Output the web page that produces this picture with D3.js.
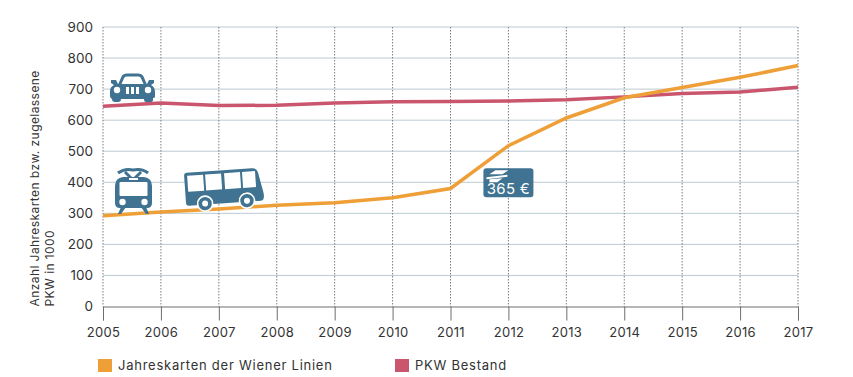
<!DOCTYPE html>
<html>
<head>
<meta charset="utf-8">
<script src="https://cdn.jsdelivr.net/npm/d3@7"></script>
<style>
  html, body { margin: 0; padding: 0; background: #fff; }
  svg { display: block; }
  text { font-family: Inter, "Open Sans", sans-serif; fill: #333; }
</style>
</head>
<body>
<div id="chart"></div>
<script>
const years = [2005, 2006, 2007, 2008, 2009, 2010, 2011, 2012, 2013, 2014, 2015, 2016, 2017];
const jahreskarten = [292, 304, 314, 326, 334, 350, 380, 518, 607, 672, 705, 738, 776];
const pkwBestand = [645, 655, 647, 648, 655, 659, 660, 662, 666, 675, 686, 691, 706];
const yTicks = [0, 100, 200, 300, 400, 500, 600, 700, 800, 900];
const yTitleLines = ["Anzahl Jahreskarten bzw. zugelassene", "PKW in 1000"];
const legendItems = [
    { label: "Jahreskarten der Wiener Linien", color: "#ef9f37" },
    { label: "PKW Bestand", color: "#c9566d" }
];

const w = 853, h = 377;
const iconBlue = "#3f7391";

const svg = d3.select("#chart").append("svg")
    .attr("width", w)
    .attr("height", h)
    .attr("viewBox", `0 0 ${w} ${h}`);

const x = d3.scaleLinear().domain([2005, 2017]).range([103, 798]);
const y = d3.scaleLinear().domain([0, 900]).range([306.5, 27]);

// grid
svg.append("g").selectAll("line")
    .data(yTicks.slice(1))
    .join("line")
    .attr("x1", x(2005)).attr("x2", x(2017))
    .attr("y1", d => y(d)).attr("y2", d => y(d))
    .attr("stroke", "#bccad3")
    .attr("stroke-width", 1);

svg.append("g").selectAll("line")
    .data(years)
    .join("line")
    .attr("x1", d => x(d)).attr("x2", d => x(d))
    .attr("y1", y(900)).attr("y2", y(0))
    .attr("stroke", "#7d7d7d")
    .attr("stroke-width", 1)
    .attr("stroke-dasharray", "1.5 1.5");

// x axis, ticks hang below the baseline
const xAxis = d3.axisBottom(x)
    .tickValues(years)
    .tickFormat(d3.format("d"))
    .tickSize(14)
    .tickPadding(7);

const xG = svg.append("g")
    .attr("transform", `translate(0,${y(0)})`)
    .call(xAxis);
xG.select(".domain").attr("stroke", "#6e6e6e");
xG.selectAll(".tick line").attr("stroke", "#6e6e6e");
xG.selectAll(".tick text").style("font-size", "13px").style("letter-spacing", "0.3px").attr("fill", "#333");

// y axis labels only
const yG = svg.append("g")
    .attr("transform", `translate(${x(2005)},0)`)
    .call(d3.axisLeft(y).tickValues(yTicks).tickSize(0).tickPadding(10));
yG.select(".domain").remove();
yG.selectAll(".tick text").style("font-size", "13.5px").attr("fill", "#333");

// y title, two lines starting at the baseline
svg.append("g").selectAll("text")
    .data(yTitleLines)
    .join("text")
    .attr("transform", (d, i) => `translate(${39 + i * 15},${y(0)}) rotate(-90)`)
    .attr("text-anchor", "start")
    .style("font-size", "12px")
    .style("letter-spacing", "0.43px")
    .text(d => d);

// lines
const line = d3.line().x((d, i) => x(years[i])).y(d => y(d));

svg.append("path")
    .datum(pkwBestand)
    .attr("d", line)
    .attr("fill", "none")
    .attr("stroke", legendItems[1].color)
    .attr("stroke-width", 3.5);

svg.append("path")
    .datum(jahreskarten)
    .attr("d", line)
    .attr("fill", "none")
    .attr("stroke", legendItems[0].color)
    .attr("stroke-width", 3.5);

// car icon
const car = svg.append("g")
    .attr("transform", `translate(${x(2005) + 7},${y(900) + 46})`);
car.append("path")
    .attr("fill", "none").attr("stroke", iconBlue).attr("stroke-width", 3)
    .attr("d", "M9 13 L13 4 Q14 2 17 2 L28 2 Q31 2 32 4 L36 13");
car.append("path")
    .attr("fill", iconBlue)
    .attr("d", "M1 7 L6 7 L8 11 L37 11 L39 7 L44 7 L44 10 L41 12 Q45 14 45 19 L45 24 Q45 25 43 25 L43 27 Q43 29 40 29 L36 29 Q34 29 34 26 L11 26 Q11 29 8 29 L5 29 Q2 29 2 26 Q0 25 0 23 L0 18 Q0 14 4 12 L1 10 Z");
car.selectAll("circle")
    .data([7, 38])
    .join("circle")
    .attr("cx", d => d).attr("cy", 17).attr("r", 3.2).attr("fill", "#fff");
car.selectAll("rect")
    .data([16, 21, 26])
    .join("rect")
    .attr("x", d => d).attr("y", 14).attr("width", 3).attr("height", 7).attr("fill", "#fff");

// tram icon
const tram = svg.append("g")
    .attr("transform", `translate(${x(2005) + 12},${y(900) + 140})`);
tram.append("path")
    .attr("fill", "none").attr("stroke", iconBlue).attr("stroke-width", 3)
    .attr("d", "M3 6 Q10 1 18 3 Q27 1 33 6 M10 5 L16 11 M26 5 L20 11");
tram.append("path")
    .attr("fill", iconBlue)
    .attr("d", "M0 19 Q0 11 8 10 L29 10 Q37 11 37 19 L37 36 Q37 41 32 41 L5 41 Q0 41 0 36 Z");
tram.append("path")
    .attr("fill", iconBlue)
    .attr("d", "M6 40 L11 40 L6 47 L3 47 Z M26 40 L31 40 L34 47 L31 47 Z");
tram.append("rect")
    .attr("x", 4.5).attr("y", 15).attr("width", 28).attr("height", 14).attr("rx", 1).attr("fill", "#fff");
tram.append("rect")
    .attr("x", 14).attr("y", 11).attr("width", 9).attr("height", 2).attr("fill", "#fff");
tram.selectAll("circle")
    .data([7.5, 29.5])
    .join("circle")
    .attr("cx", d => d).attr("cy", 35).attr("r", 3.2).attr("fill", "#fff");

// bus icon, slightly tilted
const bus = svg.append("g")
    .attr("transform", `translate(${x(2006) + 23},${y(900) + 146}) rotate(-4)`);
bus.append("path")
    .attr("fill", iconBlue)
    .attr("d", "M3 0 L68 0 Q73 0 74 5 L78 25 Q79 33 75 33 L3 33 Q0 33 0 30 L0 3 Q0 0 3 0 Z");
bus.selectAll("rect")
    .data([3, 21, 40, 58])
    .join("rect")
    .attr("x", d => d).attr("y", 3)
    .attr("width", (d, i) => i === 3 ? 13 : 16)
    .attr("height", 16).attr("fill", "#fff");
bus.selectAll("circle")
    .data([19, 61])
    .join("circle")
    .attr("cx", d => d).attr("cy", 32).attr("r", 7.5)
    .attr("fill", iconBlue).attr("stroke", "#fff").attr("stroke-width", 1.6);
bus.selectAll("circle.hub")
    .data([19, 61])
    .join("circle")
    .attr("class", "hub")
    .attr("cx", d => d).attr("cy", 32).attr("r", 3).attr("fill", "#fff");

// 365 euro badge
const badge = svg.append("g")
    .attr("transform", `translate(${x(2012) - 25},${y(500) + 17})`);
badge.append("rect")
    .attr("width", 50).attr("height", 29).attr("rx", 3).attr("fill", iconBlue);
badge.append("path")
    .attr("fill", "#fff")
    .attr("d", "M6 6 L12 2 L25 2 L19 6 Z M3 9 L24 6.5 L24 8.5 L3 11 Z M6 11 L19 10 L14 14 L6 14 Z");
badge.append("text")
    .attr("x", 25).attr("y", 26)
    .attr("text-anchor", "middle")
    .style("font-size", "15px")
    .style("letter-spacing", "0.3px")
    .style("fill", "#fff")
    .text("365 €");

// legend
const legendX = [98, 395];
const legend = svg.append("g").selectAll("g")
    .data(legendItems)
    .join("g")
    .attr("transform", (d, i) => `translate(${legendX[i]},359)`);
legend.append("rect")
    .attr("width", 14).attr("height", 13)
    .attr("fill", d => d.color);
legend.append("text")
    .attr("x", 20).attr("y", 11)
    .style("font-size", "13px")
    .style("letter-spacing", "0.75px")
    .text(d => d.label);
</script>
</body>
</html>
